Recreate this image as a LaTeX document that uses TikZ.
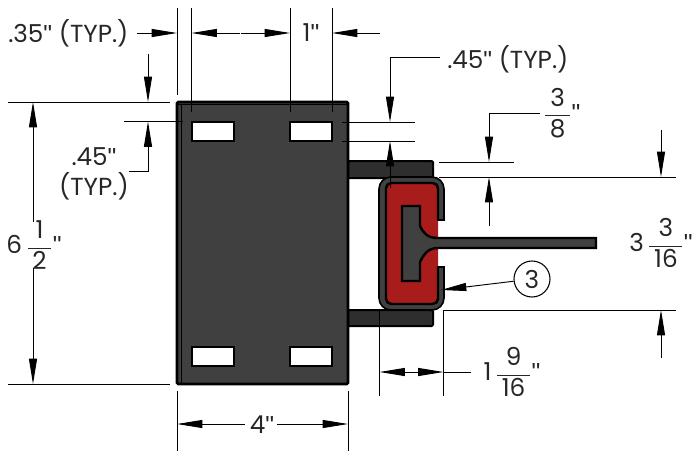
\documentclass[tikz,border=0pt]{standalone}
\usepackage{amsmath, amssymb}
\usepackage{fontspec}
\setmainfont{Poppins}
\newfontfamily\quotefont{Liberation Sans}
\usetikzlibrary{arrows.meta, positioning}
\definecolor{steel}{HTML}{404040}
\definecolor{armgrey}{HTML}{2E2E2E}
\definecolor{padred}{HTML}{A81C1C}
\newcommand{\inch}{{\quotefont\char"22\relax}}
\newcommand{\dimfrac}[2]{$\dfrac{\mbox{\hspace{3.5pt}#1\hspace{3.5pt}}}{\mbox{\hspace{3.5pt}#2\hspace{3.5pt}}}$}

\begin{document}
\begin{tikzpicture}[x=0.75pt, y=-0.75pt, >={Triangle[length=19pt, width=6pt]}]
    \tikzstyle{dimlabel} = [inner sep=0pt, text=black!85, font=\fontsize{18.5}{23}\selectfont, align=center]
    \tikzstyle{ext} = [line width=0.7pt]
    \tikzstyle{dim} = [line width=0.7pt]
    \tikzstyle{slot} = [draw, line width=1.5pt, fill=white, minimum width=31.5pt, minimum height=14.25pt, inner sep=0pt]
    \useasboundingbox (0,0) rectangle (694,451);

    % arms
    \fill [armgrey, draw=black, line width=1.5pt, rounded corners=1pt] (348,161) rectangle (433,178);
    \fill [armgrey, draw=black, line width=1.5pt, rounded corners=1pt] (348,310) rectangle (433,326);
    % plate
    \fill [steel, draw=black, line width=2.2pt, rounded corners=1pt] (177,102) rectangle (348,384);
    \draw [line width=1.2pt] (181.5,104) -- (181.5,383);
    \draw [line width=1.2pt] (178,104.5) -- (347,104.5);
    \node [slot] (slotTL) at (213,131.5) {};
    \node [slot] (slotTR) at (311,131.5) {};
    \node [slot] (slotBL) at (213,356.5) {};
    \node [slot] (slotBR) at (311,356.5) {};

    % pad and channel
    \fill [padred, rounded corners=3pt] (386,183) rectangle (438,304);
    \draw [fill=steel, line width=1.2pt, even odd rule]
        (444,220) [rounded corners=9pt] -- (444,177) -- (379,177) -- (379,310) -- (444,310)
        [sharp corners] -- (444,267) -- (438,267) [rounded corners=4pt] -- (438,304) -- (386,304) -- (386,183) -- (438,183)
        [sharp corners] -- (438,220) -- cycle;
    \draw [line width=1.8pt, rounded corners=4pt] (438,267) -- (438,304) -- (386,304) -- (386,183) -- (438,183) -- (438,220);
    % T bar
    \draw [fill=steel, line width=1.8pt] (402,206) -- (420,206) -- (420,226)
        .. controls (424,234) and (428,238) .. (438,238) -- (596,238) -- (596,248) -- (438,248)
        .. controls (428,248) and (424,254) .. (420,262) -- (420,281) -- (402,281) -- cycle;
    \draw [line width=1.6pt] (438,248) -- (596,248);

    % extension ends
    \coordinate (e35a) at (177,8);   \coordinate (e35b) at (177,95);
    \coordinate (e35c) at (191.5,8); \coordinate (e35d) at (191.5,112);
    \coordinate (e1a) at (290,8);    \coordinate (e1b) at (290,112);
    \coordinate (e1c) at (332,8);    \coordinate (e1d) at (332,112);
    \coordinate (eTa) at (8,102);    \coordinate (eTb) at (170,102);
    \coordinate (eUa) at (124,121.5);\coordinate (eUb) at (183,121.5);
    \coordinate (eBa) at (8,384);    \coordinate (eBb) at (170,384);
    \coordinate (eLa) at (177,391);  \coordinate (eLb) at (177,451);
    \coordinate (eRa) at (348,391);  \coordinate (eRb) at (348,451);
    \coordinate (sA) at (342,122);   \coordinate (sB) at (415,122);
    \coordinate (sC) at (342,141);   \coordinate (sD) at (415,141);
    \coordinate (rA) at (439,162);   \coordinate (rB) at (514,162);
    \coordinate (rC) at (439,177);   \coordinate (rD) at (676,177);
    \coordinate (rE) at (443,310);   \coordinate (rF) at (676,310);
    \coordinate (wA) at (379.5,310); \coordinate (wB) at (379.5,396);
    \coordinate (wC) at (443.5,310); \coordinate (wD) at (443.5,396);
    \foreach \from/\to in {e35a/e35b, e35c/e35d, e1a/e1b, e1c/e1d, eTa/eTb, eUa/eUb, eBa/eBb,
        eLa/eLb, eRa/eRb, sA/sB, sC/sD, rA/rB, rC/rD, rE/rF, wA/wB, wC/wD}
        \draw [ext] (\from) -- (\to);

    % labels
    \node [dimlabel, anchor=west] (typTop) at (8,33) {.35\inch{} (TYP.)};
    \node [dimlabel] (oneIn) at (311,33) {1\inch};
    \node [dimlabel] (typLeft) at (94,174) {.45\inch\\(TYP.)};
    \node [dimlabel, anchor=west] (typRight) at (447,59) {.45\inch{} (TYP.)};
    \node [dimlabel] (sixHalf) at (34,245) {6\,\dimfrac{1}{2}\inch};
    \node [dimlabel] (threeEighth) at (562,113) {\dimfrac{3}{8}\inch};
    \node [dimlabel] (channelH) at (661,243) {3\,\dimfrac{3}{16}\inch};
    \node [dimlabel] (channelW) at (512,372) {1\,\dimfrac{9}{16}\inch};
    \node [dimlabel] (fourIn) at (262,425) {4\inch};
    \node [draw, circle, line width=0.8pt, minimum size=27pt, inner sep=0pt, dimlabel] (callout) at (532,279) {3};

    % dimension ends
    \coordinate (a35) at (137,33);   \coordinate (t35) at (177,33);
    \coordinate (t35r) at (191.5,33);\coordinate (m1) at (240,33);
    \coordinate (m2) at (241,33);    \coordinate (t1) at (290,33);
    \coordinate (t1r) at (332,33);   \coordinate (a1) at (380,33);
    \coordinate (l45a) at (148,54);  \coordinate (l45b) at (148,102);
    \coordinate (l45c) at (148,121.5); \coordinate (l45d) at (148,171); \coordinate (l45e) at (129,171);
    \coordinate (h6t) at (33,102);   \coordinate (h6a) at (33,222);
    \coordinate (h6b) at (33,268);   \coordinate (h6e) at (33,384);
    \coordinate (w4a) at (177,424);  \coordinate (w4m) at (245,424);
    \coordinate (w4n) at (277,424);  \coordinate (w4b) at (348,424);
    \coordinate (r45a) at (440,57);  \coordinate (r45b) at (390,57);
    \coordinate (r45c) at (390,122); \coordinate (r45d) at (390,141); \coordinate (r45e) at (390,188);
    \coordinate (q8a) at (540,113);  \coordinate (q8b) at (489,113);
    \coordinate (q8c) at (489,162);  \coordinate (q8d) at (489,177); \coordinate (q8e) at (489,226);
    \coordinate (c3a) at (661,130);  \coordinate (c3b) at (661,177);
    \coordinate (c3c) at (661,310);  \coordinate (c3d) at (661,358);
    \coordinate (w9a) at (379.5,372); \coordinate (w9m) at (412,372);
    \coordinate (w9b) at (443.5,372); \coordinate (w9e) at (471,372);
    \coordinate (tip3) at (441,290);

    \draw [dim, ->] (a35) -- (t35);
    \draw [dim, ->] (m1) -- (t35r);
    \draw [dim, ->] (m2) -- (t1);
    \draw [dim, ->] (a1) -- (t1r);
    \draw [dim, ->] (l45a) -- (l45b);
    \draw [dim, ->] (l45e) -- (l45d) -- (l45c);
    \draw [dim, ->] (h6a) -- (h6t);
    \draw [dim, ->] (h6b) -- (h6e);
    \draw [dim, ->] (w4m) -- (w4a);
    \draw [dim, ->] (w4n) -- (w4b);
    \draw [dim, ->] (r45a) -- (r45b) -- (r45c);
    \draw [dim, ->] (r45e) -- (r45d);
    \draw [dim, ->] (q8a) -- (q8b) -- (q8c);
    \draw [dim, ->] (q8e) -- (q8d);
    \draw [dim, ->] (c3a) -- (c3b);
    \draw [dim, ->] (c3d) -- (c3c);
    \draw [dim, ->] (w9m) -- (w9a);
    \draw [dim, ->] (w9m) -- (w9b);
    \draw [dim] (w9b) -- (w9e);
    \draw [dim, ->] (callout) -- (tip3);
\end{tikzpicture}
\end{document}
